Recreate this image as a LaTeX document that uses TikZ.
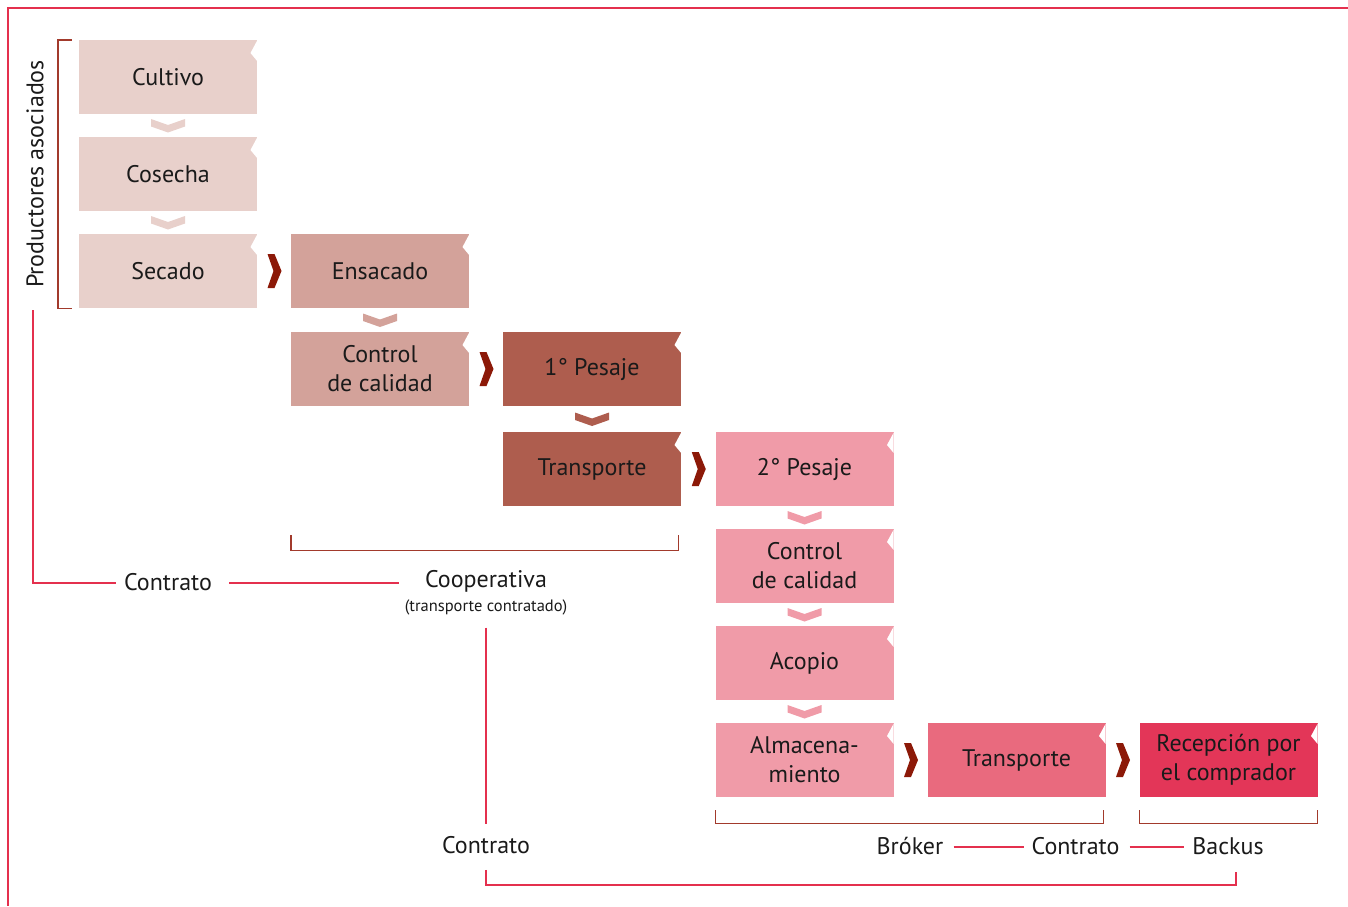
\documentclass[tikz,border=0pt]{standalone}
\usepackage{fontspec}
\setmainfont{PT Sans}
\usetikzlibrary{calc}

\definecolor{cA}{RGB}{232,208,203}
\definecolor{cB}{RGB}{211,162,154}
\definecolor{cC}{RGB}{174,93,78}
\definecolor{cD}{RGB}{240,155,168}
\definecolor{cE}{RGB}{233,106,126}
\definecolor{cF}{RGB}{227,54,88}
\definecolor{chevred}{RGB}{140,25,8}
\definecolor{linered}{RGB}{228,48,78}
\definecolor{brk}{RGB}{162,58,44}
\definecolor{ink}{RGB}{26,26,26}

\newcommand\boxfont{\fontsize{24}{29}\selectfont}
\newcommand\labfont{\fontsize{24}{28}\selectfont}
\newcommand\smallfont{\fontsize{16.5}{18}\selectfont}

% down chevron between two stacked boxes
\newcommand\downchev[3]{%
  \fill[#3] ($(#1.south)!0.5!(#2.north)$) ++(-17,-6.5) -- ++(17,6) -- ++(17,-6)
    -- ++(0,7.5) -- ++(-17,6) -- ++(-17,-6) -- cycle;}
% right chevron between two boxes side by side
\newcommand\rightchev[2]{%
  \fill[chevred] ($(#1.east)!0.5!(#2.west)$) ++(-6.5,-17) -- ++(7,0) -- ++(7,17)
    -- ++(-7,17) -- ++(-7,0) -- ++(6,-17) -- cycle;}

\tikzset{
  flowbox/.style={fill=#1, minimum width=178pt, minimum height=74pt,
    inner sep=0pt, align=center, font=\boxfont, text=ink,
    path picture={\fill[white]
      ([xshift=1pt,yshift=1pt]path picture bounding box.north east)
      -- ([xshift=-6.5pt,yshift=-13pt]path picture bounding box.north east)
      -- ([xshift=1pt,yshift=-22pt]path picture bounding box.north east) -- cycle;}},
  lab/.style={font=\labfont, text=ink, inner sep=0pt},
  redline/.style={draw=linered, line width=1.3pt},
  bracket/.style={draw=brk, line width=1.4pt},
}

\begin{document}
\begin{tikzpicture}[x=1pt,y=-1pt]
\useasboundingbox (0,0) rectangle (1348,906);

% outer frame (top and left)
\draw[redline] (1348,8) -- (8,8) -- (8,906);

% column 1
\node[flowbox=cA] (cultivo) at (168,77) {Cultivo};
\node[flowbox=cA] (cosecha) at (168,174) {Cosecha};
\node[flowbox=cA] (secado)  at (168,271) {Secado};
% column 2
\node[flowbox=cB] (ensacado) at (380,271) {Ensacado};
\node[flowbox=cB] (control1) at (380,369) {Control\\de calidad};
% column 3
\node[flowbox=cC] (pesaje1)    at (592,369) {1° Pesaje};
\node[flowbox=cC] (transporte1) at (592,469) {Transporte};
% column 4
\node[flowbox=cD] (pesaje2)  at (804.5,469) {2° Pesaje};
\node[flowbox=cD] (control2) at (804.5,566) {Control\\de calidad};
\node[flowbox=cD] (acopio)   at (804.5,663) {Acopio};
\node[flowbox=cD] (almacen)  at (804.5,760) {Almacena-\\miento};
% columns 5 and 6
\node[flowbox=cE] (transporte2) at (1016.5,760) {Transporte};
\node[flowbox=cF] (recepcion)   at (1228.5,760) {Recepción por\\el comprador};

% flow chevrons
\downchev{cultivo}{cosecha}{cA}
\downchev{cosecha}{secado}{cA}
\downchev{ensacado}{control1}{cB}
\downchev{pesaje1}{transporte1}{cC}
\downchev{pesaje2}{control2}{cD}
\downchev{control2}{acopio}{cD}
\downchev{acopio}{almacen}{cD}
\rightchev{secado}{ensacado}
\rightchev{control1}{pesaje1}
\rightchev{transporte1}{pesaje2}
\rightchev{almacen}{transporte2}
\rightchev{transporte2}{recepcion}

% brackets grouping the stages
\draw[bracket] ([xshift=-7pt]cultivo.north west) -- ++(-14,0) |- ([xshift=-7pt]secado.south west);
\draw[bracket] ([yshift=-29pt]control1.west |- transporte1.south) -- ++(0,15)
  -| ([xshift=-3pt,yshift=-29pt]transporte1.south east);
\draw[bracket] ([yshift=-13pt]almacen.south west) -- ++(0,13)
  -| ([xshift=-2pt,yshift=-13pt]transporte2.south east);
\draw[bracket] ([yshift=-13pt]recepcion.south west) -- ++(0,13) -| ([yshift=-13pt]recepcion.south east);

% actors and contracts
\node[lab, rotate=90] (productores) at (35,174) {Productores asociados};
\node[lab] (contratoA) at (168,582) {Contrato};
\node[lab, align=center] (coop) at (486,593)
  {Cooperativa\\[-4pt]{\smallfont (transporte contratado)}};
\node[lab] (contratoB) at (486,845) {Contrato};
\node[lab] (broker)    at (910,846) {Bróker};
\node[lab] (contratoC) at (1075.5,846) {Contrato};
\node[lab] (backus)    at (1228,846) {Backus};

\coordinate (prodfoot) at (33,310);
\draw[redline] (prodfoot) |- ([xshift=-8pt,yshift=-1pt]contratoA.west);
\draw[redline] ([xshift=17pt,yshift=-1pt]contratoA.east)
  -- ([xshift=-6pt,yshift=-1pt]contratoA.east -| coop.west);
\draw[redline] ([yshift=-12pt]coop.south) -- ([yshift=12pt]contratoB.north);
\draw[redline] ([yshift=-16pt]contratoB.south) -- ++(0,15)
  -| ([xshift=8pt,yshift=-17pt]backus.south);
\draw[redline] ([xshift=10pt,yshift=-1pt]broker.east) -- ([xshift=-7pt,yshift=-1pt]contratoC.west);
\draw[redline] ([xshift=10pt,yshift=-1pt]contratoC.east) -- ([xshift=-8pt,yshift=-1pt]backus.west);
\end{tikzpicture}
\end{document}
